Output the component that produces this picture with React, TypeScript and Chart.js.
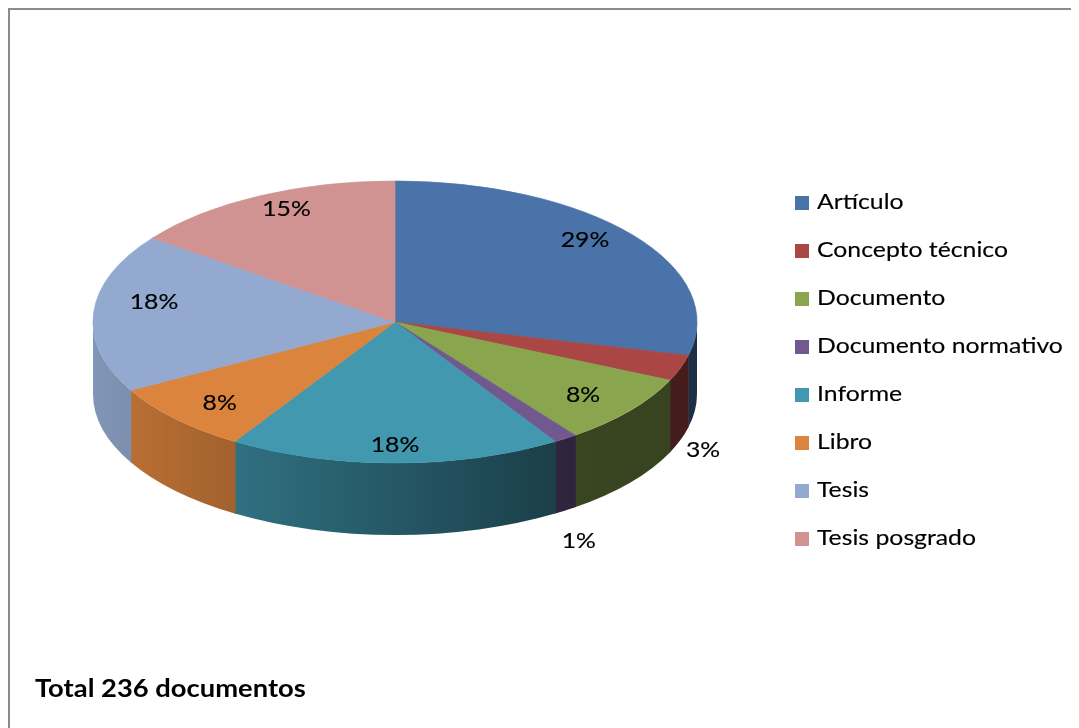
import React, { useEffect, useRef } from 'react';
import { Chart, registerables } from 'chart.js';

Chart.register(...registerables);

// ---- data ----
const categories = [
  'Artículo',
  'Concepto técnico',
  'Documento',
  'Documento normativo',
  'Informe',
  'Libro',
  'Tesis',
  'Tesis posgrado',
];
const counts = [68, 7, 19, 3, 42, 19, 43, 35];
const footerTitle = 'Total 236 documentos';

// ---- styles ----
const topColors = ['#4A73A9', '#AA4643', '#89A54E', '#71588F', '#4198AF', '#DB843D', '#93A9CF', '#D19392'];
const FONT_FAMILY = 'Lato, "Open Sans", sans-serif';
const TEXT_SIZE = 21;
const TEXT_SX = 1.18;
const TITLE_SIZE = 24;
const TITLE_SX = 1.14;
const TILT = 141 / 302;
const DEPTH = 72;

function rgb(hex: string): number[] {
  const h = hex.replace('#', '');
  return [0, 2, 4].map((i) => parseInt(h.slice(i, i + 2), 16));
}
function shade(hex: string, f: number): string {
  const [r, g, b] = rgb(hex);
  return `rgb(${Math.round(r * f)},${Math.round(g * f)},${Math.round(b * f)})`;
}

function drawText(
  ctx: CanvasRenderingContext2D,
  text: string,
  x: number,
  y: number,
  align: CanvasTextAlign,
  bold = false,
  size = TEXT_SIZE,
  sx = TEXT_SX
) {
  ctx.save();
  ctx.translate(x, y);
  ctx.scale(sx, 1);
  ctx.font = `${bold ? 'bold ' : ''}${size}px ${FONT_FAMILY}`;
  ctx.fillStyle = '#000';
  ctx.strokeStyle = '#000';
  ctx.lineWidth = 0.15;
  ctx.textAlign = align;
  ctx.textBaseline = 'alphabetic';
  ctx.fillText(text, 0, 0);
  if (!bold) ctx.strokeText(text, 0, 0);
  ctx.restore();
}

const pie3d = {
  id: 'pie3d',
  _saved: false,
  beforeDatasetsDraw(chart: any) {
    const meta = chart.getDatasetMeta(0);
    const arcs = meta.data;
    (this as any)._saved = false;
    if (!arcs.length) return;
    const { x: cx, y: cy, outerRadius: r } = arcs[0].getProps(['x', 'y', 'outerRadius'], true);
    const ry = r * TILT;
    const ctx: CanvasRenderingContext2D = chart.ctx;
    ctx.save();
    arcs.forEach((arc: any, i: number) => {
      const { startAngle, endAngle } = arc.getProps(['startAngle', 'endAngle'], true);
      const a = Math.max(startAngle - 0.003, 0);
      const b = Math.min(endAngle + 0.003, Math.PI);
      if (b <= a) return;
      const c = topColors[i];
      const g = ctx.createLinearGradient(cx - r, 0, cx + r, 0);
      g.addColorStop(0, shade(c, 0.88));
      g.addColorStop(0.757, shade(c, 0.42));
      g.addColorStop(1, shade(c, 0.4));
      ctx.fillStyle = g;
      ctx.beginPath();
      ctx.ellipse(cx, cy, r, ry, 0, a, b, false);
      ctx.ellipse(cx, cy + DEPTH, r, ry, 0, b, a, true);
      ctx.closePath();
      ctx.fill();
    });
    ctx.restore();
    ctx.save();
    ctx.translate(cx, cy);
    ctx.scale(1, TILT);
    ctx.translate(-cx, -cy);
    (this as any)._saved = true;
  },
  afterDatasetsDraw(chart: any) {
    if ((this as any)._saved) {
      chart.ctx.restore();
      (this as any)._saved = false;
    }
  },
  afterDraw(chart: any) {
    const ctx: CanvasRenderingContext2D = chart.ctx;
    const meta = chart.getDatasetMeta(0);
    const arcs = meta.data;
    const total = counts.reduce((s, v) => s + v, 0);
    if (arcs.length) {
      const { x: cx, y: cy, outerRadius: r } = arcs[0].getProps(['x', 'y', 'outerRadius'], true);
      const ry = r * TILT;
      arcs.forEach((arc: any, i: number) => {
        const { startAngle, endAngle } = arc.getProps(['startAngle', 'endAngle'], true);
        const mid = (startAngle + endAngle) / 2;
        const frac = counts[i] / total;
        const label = `${Math.round(frac * 100)}%`;
        const cos = Math.cos(mid);
        const sin = Math.sin(mid);
        let x: number;
        let y: number;
        if (frac < 0.05) {
          x = cx + r * cos + 24 * cos;
          y = cy + ry * sin + DEPTH + 24 * sin + 16 * sin * sin;
        } else {
          // labels sit slightly higher on the far half (perspective look)
          x = cx + 0.8 * r * cos;
          y = cy - 12 + 0.8 * ry * sin * (sin > 0 ? 1.2 : 1);
        }
        drawText(ctx, label, x, y + 7, 'center');
      });
    }
    // legend
    categories.forEach((name, i) => {
      const base = 199 + i * 48;
      ctx.fillStyle = topColors[i];
      ctx.fillRect(785, base - 13, 14, 14);
      drawText(ctx, name, 807, base, 'left');
    });
    // footer title
    drawText(ctx, footerTitle, 25, 687, 'left', true, TITLE_SIZE, TITLE_SX);
  },
};

export default function App() {
  const ref = useRef<HTMLCanvasElement>(null);
  useEffect(() => {
    const chart = new Chart(ref.current as HTMLCanvasElement, {
      type: 'pie',
      data: {
        labels: categories,
        datasets: [
          {
            data: counts,
            backgroundColor: topColors,
            borderColor: topColors,
            borderWidth: 1,
            radius: 302,
          } as any,
        ],
      },
      options: {
        responsive: false,
        animation: false,
        events: [],
        layout: { padding: { left: 70, right: 369, top: 100, bottom: 194 } },
        plugins: {
          legend: { display: false },
          tooltip: { enabled: false },
          title: { display: false },
        },
      } as any,
      plugins: [pie3d as any],
    });
    return () => chart.destroy();
  }, []);
  return (
    <div
      style={{
        width: 1069,
        height: 718,
        borderTop: '2px solid #8c8c8c',
        borderLeft: '2px solid #8c8c8c',
        background: '#fff',
      }}
    >
      <canvas ref={ref} width={1069} height={718} style={{ display: 'block' }} />
    </div>
  );
}
